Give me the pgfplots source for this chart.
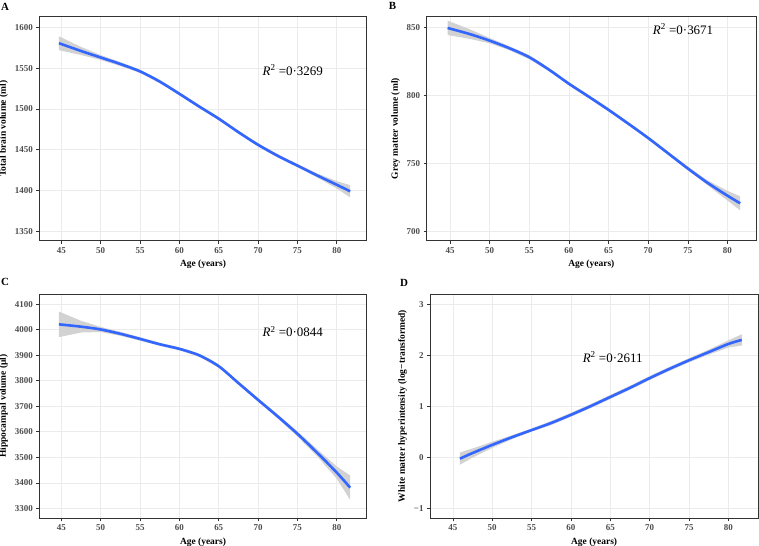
\documentclass[border=0pt]{standalone}
\usepackage{fontspec}
\setmainfont{Liberation Serif}
\usepackage{pgfplots}
\pgfplotsset{compat=1.18}

\definecolor{ggblue}{HTML}{3366FF}
\definecolor{gridc}{HTML}{EBEBEB}
\definecolor{framec}{HTML}{333333}
\definecolor{tickc}{HTML}{4D4D4D}
\definecolor{bandc}{HTML}{D2D2D2}

\tikzset{r2/.style={font=\fontsize{13}{13}\selectfont}}

\pgfplotsset{
  mypanel/.style={
    scale only axis, anchor=south west,
    axis line style={draw=framec, line width=0.7bp},
    grid=major, major grid style={draw=gridc, line width=0.6bp},
    tick pos=left,
    tick align=outside, major tick length=3bp,
    tick style={draw=framec, line width=0.6bp},
    tick label style={font=\bfseries\fontsize{9}{9}\selectfont, text=tickc},
    label style={font=\bfseries\fontsize{9.5}{10}\selectfont, text=black},
    /pgf/number format/assume math mode=true,
    /pgf/number format/1000 sep={},
    xtick={45,50,...,80},
    xlabel={Age (years)},
  },
  mycurve/.style={color=ggblue, line width=2.6bp, smooth, mark=none},
  myband/.style={fill=bandc, draw=none, mark=none},
}

\begin{document}
\begin{tikzpicture}
\useasboundingbox (0,0) rectangle (759bp,546bp);

% Panel A
\begin{axis}[mypanel, at={(39.3bp,305.3bp)}, width=327.4bp, height=224bp,
  xmin=42.2, xmax=83.8, ymin=1338.5, ymax=1613,
  ytick={1350,1400,...,1600}, ylabel={Total brain volume (ml)}]
  \addplot[myband] coordinates {
    (44.7,1589) (47.5,1576) (50,1566) (52.5,1557.5) (55,1548) (57.5,1535.5) (60,1520.5) (62.5,1505)
    (65,1490) (67.5,1473.5) (70,1458) (72.5,1444.5) (75,1432.5) (77.5,1421) (80,1411.5) (81.7,1406.5)
    (81.7,1391.5) (80,1402.5) (77.5,1416) (75,1428.5) (72.5,1440.5) (70,1454) (67.5,1469.5) (65,1486)
    (62.5,1501) (60,1516.5) (57.5,1531.5) (55,1544) (52.5,1552.5) (50,1560) (47.5,1566) (44.7,1572)
  } -- cycle;
  \addplot[mycurve] coordinates {
    (44.7,1580.5) (47.5,1571) (50,1563) (52.5,1555) (55,1546) (57.5,1533.5) (60,1518.5) (62.5,1503)
    (65,1488) (67.5,1471.5) (70,1456) (72.5,1442.5) (75,1430.5) (77.5,1418.5) (80,1407) (81.7,1399)
  };
  \node[r2] at (axis cs:74.4,1547.7) {\textit{R}\textsuperscript{2} =0·3269};
\end{axis}

% Panel B
\begin{axis}[mypanel, at={(426.7bp,305.3bp)}, width=329.3bp, height=224bp,
  xmin=42.06, xmax=83.6, ymin=693.1, ymax=857.8,
  ytick={700,750,800,850}, ylabel={Grey matter volume (ml)}]
  \addplot[myband] coordinates {
    (44.7,854.9) (47.5,848.5) (50,842.2) (52.5,836.1) (55,829.5) (57.5,820) (60,809.7) (62.5,800.2)
    (65,790.5) (67.5,780.3) (70,769.8) (72.5,758.6) (75,747.6) (77.5,737.4) (80,729.8) (81.6,725.7)
    (81.6,715.5) (80,722.6) (77.5,733.8) (75,744.8) (72.5,756.2) (70,767.4) (67.5,777.9) (65,788.1)
    (62.5,797.8) (60,807.3) (57.5,817.6) (55,826.5) (52.5,833.1) (50,838.2) (47.5,841.5) (44.7,844.3)
  } -- cycle;
  \addplot[mycurve] coordinates {
    (44.7,849.5) (47.5,845) (50,840.2) (52.5,834.6) (55,828) (57.5,818.8) (60,808.5) (62.5,799)
    (65,789.3) (67.5,779.1) (70,768.6) (72.5,757.4) (75,746.2) (77.5,735.6) (80,726.2) (81.6,720.6)
  };
  \node[r2] at (axis cs:74.4,848.7) {\textit{R}\textsuperscript{2} =0·3671};
\end{axis}

% Panel C
\begin{axis}[mypanel, at={(39.3bp,27.7bp)}, width=327.4bp, height=224.3bp,
  xmin=42.2, xmax=83.8, ymin=3261, ymax=4140,
  ytick={3300,3400,...,4100}, ylabel={Hippocampal volume (µl)}]
  \addplot[myband] coordinates {
    (44.7,4071) (47.5,4035) (50,4011) (52.5,3992) (55,3971) (57.5,3949) (60,3931) (62.5,3906)
    (65,3863) (67.5,3797) (70,3732) (72.5,3668) (75,3602) (77.5,3532) (80,3464) (81.7,3429)
    (81.7,3333) (80,3416) (77.5,3504) (75,3582) (72.5,3652) (70,3718) (67.5,3785) (65,3851)
    (62.5,3894) (60,3919) (57.5,3937) (55,3957) (52.5,3976) (50,3991) (47.5,3989) (44.7,3971)
  } -- cycle;
  \addplot[mycurve] coordinates {
    (44.7,4021) (47.5,4012) (50,4001) (52.5,3984) (55,3964) (57.5,3943) (60,3925) (62.5,3900)
    (65,3857) (67.5,3791) (70,3725) (72.5,3660) (75,3592) (77.5,3518) (80,3440) (81.7,3381)
  };
  \node[r2] at (axis cs:74.4,3992.5) {\textit{R}\textsuperscript{2} =0·0844};
\end{axis}

% Panel D
\begin{axis}[mypanel, at={(430bp,27.7bp)}, width=328.3bp, height=224.3bp,
  xmin=42.1, xmax=83.8, ymin=-1.2, ymax=3.2,
  ytick={-1,0,1,2,3}, yticklabels={−1,0,1,2,3},
  ylabel={White matter hyperintensity (log−transformed)}]
  \addplot[myband] coordinates {
    (45.9,0.09) (47.5,0.17) (50,0.30) (52.5,0.43) (55,0.56) (57.5,0.71) (60,0.87) (62.5,1.04)
    (65,1.22) (67.5,1.40) (70,1.59) (72.5,1.77) (75,1.94) (77.5,2.11) (80,2.29) (81.7,2.41)
    (81.7,2.19) (80,2.15) (77.5,2.01) (75,1.86) (72.5,1.69) (70,1.51) (67.5,1.32) (65,1.14)
    (62.5,0.96) (60,0.79) (57.5,0.63) (55,0.50) (52.5,0.35) (50,0.18) (47.5,-0.01) (45.9,-0.15)
  } -- cycle;
  \addplot[mycurve] coordinates {
    (45.9,-0.03) (47.5,0.08) (50,0.24) (52.5,0.39) (55,0.53) (57.5,0.67) (60,0.83) (62.5,1.00)
    (65,1.18) (67.5,1.36) (70,1.55) (72.5,1.73) (75,1.90) (77.5,2.06) (80,2.22) (81.7,2.30)
  };
  \node[r2] at (axis cs:65.3,1.96) {\textit{R}\textsuperscript{2} =0·2611};
\end{axis}

\node[font=\bfseries\fontsize{11}{11}\selectfont] at (5bp,539.5bp) {A};
\node[font=\bfseries\fontsize{11}{11}\selectfont] at (392.5bp,540.5bp) {B};
\node[font=\bfseries\fontsize{11}{11}\selectfont] at (5bp,264bp) {C};
\node[font=\bfseries\fontsize{11}{11}\selectfont] at (404bp,263.5bp) {D};
\end{tikzpicture}
\end{document}
